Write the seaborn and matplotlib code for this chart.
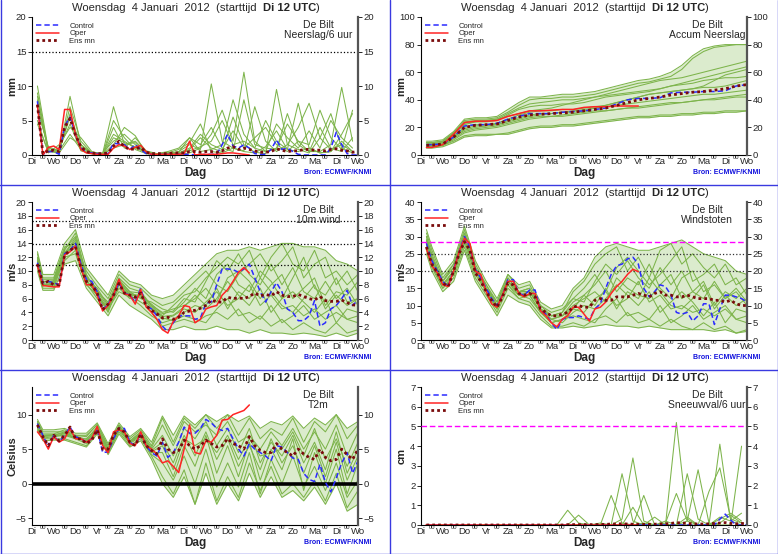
import matplotlib
matplotlib.use('Agg')
import matplotlib.pyplot as plt
from matplotlib.lines import Line2D
import pandas as pd
import seaborn as sns

sns.set_style('white')
plt.rcParams['font.family'] = ['Liberation Sans', 'DejaVu Sans']

# --- time axis (hours after Di 12 UTC) ---
hours6 = list(range(6, 361, 6))                 # control / ens mean
oper_hours = list(range(6, 241, 6))             # operational run (10 days)
mem_hours = [6] + list(range(12, 361, 12))      # ensemble members, continuous fields
pmem_hours = list(range(6, 361, 12))            # ensemble members, 6h sums
day_labels = ['Di', 'Wo', 'Do', 'Vr', 'Za', 'Zo', 'Ma', 'Di',
              'Wo', 'Do', 'Vr', 'Za', 'Zo', 'Ma', 'Di', 'Wo']

# --- Neerslag / 6 uur ---
rr_control = [7.8, 0.1, 0.5, 0.5, 0.1, 4.2, 5.5, 3.0, 1.0, 0.4,
              0.3, 0.2, 0.2, 0.2, 1.7, 1.6, 1.5, 0.8, 1.5, 0.8,
              0.2, 0.1, 0.1, 0.1, 0.1, 0.1, 0.1, 0.1, 0.1, 0.0,
              0.0, 0.1, 0.1, 0.1, 1.5, 3.0, 1.3, 1.0, 1.5, 1.0,
              0.2, 0.1, 0.1, 0.8, 2.2, 0.8, 1.0, 0.5, 0.1, 0.0,
              0.0, 0.0, 0.0, 0.0, 1.0, 3.3, 1.5, 0.2, 0.0, 0.0]
rr_oper = [7.2, 0.0, 1.1, 1.3, 0.8, 6.6, 6.6, 3.0, 0.8, 0.3,
           0.2, 0.1, 0.1, 0.1, 1.0, 1.5, 1.3, 0.8, 1.1, 1.4,
           0.5, 0.1, 0.1, 0.1, 0.1, 0.1, 0.1, 0.2, 2.0, 0.0,
           0.1, 0.1, 0.1, 0.1, 0.2, 0.3, 0.3, 0.2, 0.1, 0.0]
rr_mean = [7.3, 0.2, 0.6, 0.7, 0.5, 4.0, 5.3, 2.9, 1.2, 0.5,
           0.3, 0.2, 0.2, 0.3, 1.3, 2.0, 1.2, 0.8, 0.9, 1.1,
           0.4, 0.2, 0.2, 0.2, 0.2, 0.3, 0.3, 0.3, 0.5, 0.5,
           0.4, 0.5, 0.5, 0.4, 0.6, 1.0, 1.2, 0.8, 1.0, 0.8,
           0.6, 0.4, 0.4, 0.5, 0.9, 0.7, 0.5, 0.6, 0.6, 0.8,
           0.8, 0.7, 0.7, 0.6, 0.8, 0.9, 0.7, 0.6, 0.4, 0.5]
rr_members = [
    [10.0, 0.8, 0.3, 8.5, 1.5, 0.2, 0.1, 2.5, 1.8, 1.2, 0.3, 0.1, 0.2, 0.5, 1.5,
     0.8, 10.3, 2.0, 1.0, 0.5, 0.3, 1.2, 3.5, 0.8, 0.5, 1.0, 0.3, 0.5, 2.0, 0.5],
    [6.5, 1.2, 0.5, 7.0, 2.0, 0.3, 0.1, 5.0, 2.5, 0.8, 0.2, 0.1, 0.1, 0.2, 0.8,
     2.5, 1.0, 0.5, 5.5, 1.5, 0.4, 0.2, 9.5, 1.5, 0.8, 0.3, 2.5, 6.0, 1.0, 0.3],
    [8.0, 0.5, 0.8, 5.5, 1.0, 0.4, 0.2, 7.0, 1.5, 2.0, 0.5, 0.1, 0.1, 0.1, 0.3,
     1.0, 3.0, 6.5, 2.0, 12.0, 2.0, 0.5, 1.0, 4.5, 2.0, 0.5, 0.5, 1.5, 9.8, 2.0],
    [5.0, 0.3, 1.5, 4.0, 2.5, 0.5, 0.1, 1.5, 4.0, 2.8, 0.3, 0.2, 0.5, 1.0, 2.5,
     0.5, 0.8, 1.5, 8.0, 3.0, 1.0, 5.0, 2.0, 0.8, 7.5, 1.0, 0.3, 0.5, 3.0, 6.0],
    [9.0, 0.6, 0.4, 6.0, 1.2, 0.3, 0.2, 3.0, 2.0, 1.0, 0.4, 0.2, 0.3, 0.8, 1.8,
     4.5, 0.5, 0.3, 1.0, 0.6, 7.0, 2.0, 0.5, 1.5, 4.0, 7.5, 2.5, 0.8, 1.5, 0.5],
    [7.0, 1.0, 0.6, 3.0, 0.8, 0.2, 0.1, 4.0, 1.0, 2.5, 0.6, 0.2, 0.2, 0.3, 0.6,
     1.2, 2.0, 5.0, 1.5, 2.0, 1.0, 0.5, 4.5, 2.5, 1.0, 3.5, 1.0, 5.0, 2.5, 1.0],
    [4.5, 0.5, 0.3, 2.5, 1.5, 0.3, 0.3, 2.0, 3.0, 1.5, 0.3, 0.1, 0.1, 0.4, 2.5,
     1.5, 4.0, 1.0, 0.5, 8.0, 1.5, 1.0, 0.8, 6.0, 1.5, 0.5, 4.0, 1.0, 0.5, 2.5],
    [8.5, 0.4, 1.0, 4.5, 0.6, 0.2, 0.1, 1.0, 1.5, 1.8, 0.2, 0.1, 0.4, 0.3, 1.0,
     3.0, 1.5, 0.8, 3.5, 1.0, 2.5, 4.0, 1.5, 0.5, 2.0, 1.5, 6.5, 2.5, 0.8, 6.5],
]

# --- Accum neerslag ---
acc_control = [7.5, 7.5, 8.0, 13.0, 21.0, 22.0, 22.0, 23.0, 26.0, 28.0, 30.0,
               30.0, 30.0, 31.0, 31.5, 32.0, 33.0, 34.0, 37.0, 40.0, 41.0,
               41.0, 41.5, 45.0, 45.5, 45.5, 46.0, 46.0, 46.5, 50.0, 51.0]
acc_oper = [5.5, 5.5, 7.5, 15.0, 23.5, 24.5, 24.5, 25.0, 28.0, 30.0, 32.0,
            32.0, 32.5, 33.0, 33.0, 34.5, 35.0, 35.0, 35.5, 35.5, 35.5]
acc_mean = [7.0, 7.2, 8.0, 13.0, 20.0, 21.5, 22.0, 22.5, 25.0, 27.5, 29.0,
            29.5, 30.0, 30.5, 31.0, 32.0, 33.0, 34.0, 36.0, 38.0, 40.0,
            41.0, 42.0, 43.5, 44.5, 45.5, 46.0, 47.0, 48.0, 50.0, 51.0]
acc_members = [
    [9, 9, 10, 16, 25, 26, 26, 27, 31, 36, 40, 41, 41, 42, 42, 43, 44, 46, 48, 50, 52,
     53, 55, 57, 62, 70, 75, 78, 79, 80, 80],
    [6, 6, 7, 10, 14, 15, 15, 15, 16, 18, 20, 21, 21, 22, 22, 23, 24, 25, 26, 27, 28,
     28, 29, 29, 30, 30, 31, 31, 32, 32, 32],
    [8, 8, 9, 15, 22, 24, 25, 26, 30, 34, 37, 38, 39, 40, 40, 41, 42, 44, 46, 48, 50,
     52, 54, 55, 56, 58, 60, 62, 64, 66, 68],
    [7, 7, 8, 13, 18, 20, 21, 22, 25, 27, 29, 30, 30, 31, 31, 32, 34, 35, 36, 37, 38,
     39, 40, 41, 42, 43, 44, 44, 45, 46, 47],
    [6, 6, 7, 12, 17, 19, 20, 21, 23, 25, 27, 28, 28, 29, 30, 31, 32, 32, 33, 34, 34,
     35, 36, 37, 38, 39, 40, 40, 41, 42, 42],
    [8, 8, 9, 15, 24, 25, 25, 26, 28, 30, 32, 33, 34, 36, 38, 40, 42, 43, 44, 45, 46,
     47, 48, 50, 52, 54, 56, 58, 60, 62, 64],
    [7, 7, 8, 14, 20, 22, 22, 23, 26, 29, 31, 32, 32, 33, 33, 34, 35, 36, 38, 40, 42,
     44, 45, 46, 47, 48, 50, 54, 58, 60, 62],
    [6, 6, 7, 11, 16, 18, 19, 20, 22, 24, 26, 27, 28, 28, 29, 30, 31, 32, 33, 34, 35,
     36, 37, 38, 38, 39, 40, 41, 42, 43, 44],
    [9, 9, 10, 16, 23, 24, 24, 25, 29, 33, 35, 36, 36, 37, 37, 38, 40, 42, 43, 44, 45,
     46, 48, 50, 51, 52, 54, 55, 56, 56, 57],
    [7, 7, 8, 13, 19, 21, 22, 22, 24, 26, 28, 29, 30, 31, 32, 33, 34, 36, 38, 40, 42,
     44, 45, 46, 47, 48, 49, 49, 50, 52, 54],
]
acc_low = [5, 5, 6, 9, 13, 14, 14, 15, 15, 17, 19, 20, 20, 21, 21, 22, 23, 24, 25, 26, 27,
           27, 28, 28, 29, 29, 30, 30, 31, 31, 32]
acc_high = [10, 10, 11, 17, 26, 27, 27, 28, 33, 38, 42, 42, 43, 44, 44, 45, 46, 48, 50, 52, 54,
            55, 57, 60, 65, 72, 77, 79, 80, 80, 80]

# --- 10m wind ---
ff_control = [11.2, 8.3, 8.5, 8.3, 8.0, 12.5, 13.0, 14.0, 11.0, 8.8,
              8.5, 7.0, 4.3, 5.2, 6.5, 8.3, 6.8, 6.5, 5.5, 7.5,
              5.0, 4.5, 3.5, 2.0, 1.2, 2.5, 3.5, 3.5, 3.5, 3.0,
              3.2, 5.3, 5.5, 8.0, 10.3, 10.3, 10.2, 9.8, 10.3, 11.0,
              9.0, 7.0, 5.5, 7.0, 8.3, 7.0, 4.5, 4.0, 2.8, 2.8,
              3.5, 5.7, 2.0, 2.5, 4.5, 5.0, 6.0, 7.2, 5.0, 5.8]
ff_oper = [10.8, 7.9, 7.8, 7.7, 7.7, 12.3, 12.8, 13.6, 10.5, 8.0,
           8.0, 6.5, 4.2, 5.0, 6.5, 8.8, 6.7, 6.5, 5.2, 7.3,
           4.8, 4.0, 3.0, 1.5, 1.0, 2.7, 3.5, 5.0, 4.8, 2.5,
           3.0, 4.5, 4.8, 5.0, 6.5, 7.3, 8.5, 9.8, 10.5, 9.7]
ff_mean = [11.0, 8.2, 8.5, 8.0, 8.0, 12.3, 13.0, 13.5, 10.5, 8.5,
           8.0, 6.8, 4.4, 5.2, 6.5, 8.2, 6.8, 6.5, 6.2, 6.8,
           5.0, 4.3, 3.8, 3.2, 3.3, 3.0, 3.3, 4.0, 4.2, 4.3,
           4.6, 5.0, 5.8, 5.5, 5.5, 6.2, 6.0, 6.1, 6.0, 6.3,
           6.8, 6.4, 6.6, 6.4, 7.0, 6.5, 6.3, 6.3, 6.6, 6.3,
           6.0, 5.8, 6.3, 5.7, 5.6, 5.6, 5.8, 5.4, 5.1, 5.0]
ff_members = [
    [12.0, 8.8, 8.8, 13.0, 15.5, 9.5, 7.0, 5.5, 9.0, 7.5, 7.0, 5.0, 3.5, 5.0, 6.5, 7.0,
     9.0, 10.5, 12.0, 11.0, 13.0, 9.0, 12.0, 14.0, 11.0, 10.0, 13.0, 9.0, 10.0, 8.0, 9.5],
    [10.5, 7.5, 7.5, 12.0, 12.5, 8.0, 6.5, 4.5, 7.5, 6.0, 6.5, 4.0, 2.0, 2.5, 3.0, 2.5,
     3.5, 4.0, 3.0, 4.5, 2.5, 3.5, 2.0, 3.0, 1.5, 2.5, 1.5, 1.0, 2.5, 1.0, 1.5],
    [11.5, 8.5, 8.2, 12.5, 14.5, 9.0, 7.5, 5.0, 8.5, 7.0, 6.0, 5.5, 4.5, 4.0, 5.5, 7.5,
     6.0, 9.5, 11.0, 8.0, 7.0, 10.0, 8.5, 6.0, 9.0, 12.0, 7.5, 6.5, 9.0, 5.5, 6.0],
    [11.0, 8.0, 8.0, 12.8, 13.5, 8.5, 6.8, 4.0, 8.0, 6.5, 5.5, 4.5, 3.0, 3.5, 4.5, 4.0,
     5.5, 7.0, 5.0, 6.0, 8.0, 5.0, 6.5, 4.5, 5.0, 3.5, 4.5, 3.0, 4.0, 3.0, 3.5],
    [12.5, 9.0, 9.0, 13.5, 14.0, 10.0, 7.8, 6.0, 9.5, 8.0, 7.5, 6.0, 5.0, 5.5, 7.0, 8.5,
     10.0, 8.0, 7.0, 9.5, 11.0, 12.5, 10.0, 11.5, 13.5, 9.0, 11.0, 12.0, 8.0, 10.0, 7.0],
    [10.8, 7.8, 8.2, 11.5, 13.0, 8.2, 6.0, 4.5, 7.0, 6.2, 5.0, 3.5, 2.5, 3.0, 4.0, 5.0,
     4.5, 6.0, 8.5, 6.5, 5.0, 7.5, 4.0, 6.0, 7.0, 5.5, 4.0, 6.0, 2.5, 4.5, 4.0],
    [11.8, 8.5, 8.5, 13.2, 15.0, 9.2, 7.2, 5.2, 8.8, 7.0, 6.8, 5.0, 4.0, 4.5, 5.0, 6.0,
     7.5, 5.5, 9.0, 10.0, 8.5, 6.0, 8.0, 9.5, 6.0, 7.5, 9.0, 5.0, 7.0, 6.5, 8.5],
    [11.2, 8.2, 7.8, 12.2, 14.2, 8.8, 6.5, 4.2, 8.2, 6.8, 6.2, 4.8, 3.2, 2.8, 3.5, 3.0,
     2.5, 4.5, 6.0, 3.5, 4.0, 3.0, 5.0, 2.5, 3.5, 5.0, 3.0, 4.0, 5.0, 3.0, 2.5],
    [11.0, 8.0, 8.3, 12.6, 14.8, 9.3, 7.0, 4.8, 8.5, 6.6, 6.4, 5.2, 3.8, 4.2, 6.0, 5.5,
     8.5, 11.5, 10.0, 12.5, 9.5, 8.0, 11.0, 8.0, 10.5, 7.0, 6.0, 8.5, 6.0, 7.5, 5.0],
    [11.4, 8.4, 8.6, 12.4, 13.8, 8.6, 6.6, 4.6, 8.0, 6.4, 6.6, 4.6, 3.4, 3.6, 4.8, 6.5,
     5.0, 7.5, 4.5, 7.0, 6.0, 9.0, 7.0, 5.0, 4.0, 6.0, 8.0, 4.5, 6.5, 5.0, 6.0],
]
ff_low = [10.0, 7.2, 7.2, 11.0, 11.5, 7.5, 5.5, 3.5, 6.5, 5.0, 4.0, 3.0, 1.5, 1.5, 2.0, 1.5,
          1.5, 2.0, 1.5, 1.5, 1.0, 1.5, 1.0, 1.0, 0.8, 1.0, 0.8, 0.5, 1.0, 0.5, 1.0]
ff_high = [12.8, 9.5, 9.5, 14.0, 16.0, 10.5, 8.5, 6.5, 10.0, 8.5, 8.0, 6.5, 6.0, 6.5, 8.0, 9.5,
           11.0, 12.5, 13.0, 13.0, 13.5, 13.0, 13.5, 14.0, 14.0, 13.5, 13.5, 13.0, 11.5, 11.0, 10.0]

# --- Windstoten ---
fx_control = [28.0, 23.0, 20.0, 17.0, 15.5, 20.5, 25.5, 30.0, 27.0, 20.5,
              18.0, 15.0, 12.0, 10.0, 13.0, 17.5, 17.5, 13.5, 13.0, 14.5,
              14.5, 8.5, 7.5, 5.0, 3.0, 6.0, 6.5, 6.5, 7.0, 6.5,
              6.0, 9.0, 10.5, 15.0, 19.0, 21.5, 22.0, 23.5, 24.0, 22.0,
              15.0, 12.5, 14.0, 16.0, 15.5, 13.0, 8.0, 7.5, 8.0, 5.5,
              7.0, 10.5, 10.5, 4.5, 9.0, 13.0, 13.0, 12.5, 12.0, 11.0]
fx_oper = [26.5, 21.5, 19.5, 16.0, 15.5, 20.0, 25.5, 29.5, 28.0, 20.0,
           19.0, 14.0, 10.5, 9.5, 13.0, 17.0, 17.0, 13.5, 12.5, 13.5,
           13.5, 8.5, 7.0, 5.0, 3.8, 6.0, 7.0, 9.5, 9.5, 7.5,
           5.5, 9.0, 9.5, 11.0, 13.5, 15.5, 17.0, 19.0, 20.5, 19.8]
fx_mean = [27.0, 22.0, 19.5, 16.5, 15.5, 20.0, 25.0, 28.5, 26.0, 19.5,
           17.0, 14.0, 11.5, 9.5, 12.5, 16.5, 16.0, 13.5, 13.0, 13.5,
           12.5, 9.0, 8.0, 7.0, 7.0, 7.5, 8.0, 9.5, 10.0, 9.5,
           9.5, 11.5, 12.0, 11.5, 11.5, 12.5, 12.5, 12.5, 13.0, 13.5,
           13.0, 12.5, 13.5, 14.0, 13.0, 13.0, 12.5, 12.5, 13.0, 12.5,
           12.0, 12.0, 12.0, 11.5, 11.5, 11.0, 11.5, 10.5, 10.0, 10.0]
fx_members = [
    [31, 26, 18, 22, 32, 22, 16, 11, 19, 15, 16, 10, 7, 8, 14, 17, 22, 25, 27, 20, 24,
     18, 26, 28, 22, 25, 21, 18, 22, 16, 18],
    [26, 21, 15, 18, 27, 18, 13, 8, 15, 12, 11, 7, 4, 4, 5, 4, 6, 7, 5, 8, 5,
     6, 4, 6, 4, 3, 5, 3, 4, 2, 3],
    [29, 24, 17, 21, 31, 21, 15, 10, 18, 14, 14, 9, 6, 7, 11, 13, 16, 20, 14, 18, 16,
     22, 15, 12, 18, 20, 14, 16, 12, 14, 10],
    [28, 23, 16, 20, 29, 20, 14, 9, 17, 13, 13, 8, 5, 6, 9, 8, 12, 14, 10, 12, 17,
     11, 13, 9, 10, 8, 9, 7, 9, 6, 7],
    [30, 25, 17, 21, 30, 21, 16, 10, 17, 14, 15, 10, 8, 9, 12, 15, 19, 14, 21, 24, 20,
     16, 19, 23, 27, 17, 19, 22, 16, 18, 13],
    [27, 22, 16, 19, 28, 19, 14, 9, 16, 13, 12, 8, 6, 5, 8, 10, 9, 12, 16, 13, 10,
     14, 8, 11, 14, 11, 7, 11, 5, 9, 8],
    [29, 24, 16, 20, 30, 20, 15, 10, 17, 14, 14, 9, 7, 7, 10, 12, 14, 11, 18, 15, 13,
     12, 16, 19, 12, 14, 17, 10, 14, 12, 15],
    [28, 22, 15, 19, 29, 20, 14, 9, 16, 12, 13, 8, 5, 6, 7, 6, 5, 9, 12, 7, 8,
     6, 10, 5, 7, 10, 6, 8, 10, 6, 5],
    [30, 24, 17, 22, 31, 21, 15, 11, 18, 14, 15, 9, 7, 8, 12, 11, 17, 22, 19, 23, 18,
     15, 21, 16, 20, 14, 12, 17, 12, 15, 11],
    [29, 23, 16, 20, 29, 20, 15, 9, 17, 13, 14, 9, 6, 7, 9, 13, 10, 15, 9, 14, 12,
     18, 14, 10, 9, 12, 16, 9, 13, 10, 12],
]
fx_low = [25, 20, 14, 17, 26, 17, 12, 7, 13, 11, 10, 6, 3.5, 3.5, 4, 3.5, 4, 4.5, 4, 4, 3.5,
          4, 3.5, 3, 3, 3, 3, 2.5, 3, 2, 2.5]
fx_high = [32, 27, 19, 23, 33, 23, 17, 12, 19, 16, 17, 11, 9, 10, 15, 18, 24, 27, 28, 27, 26,
           26, 27, 28, 29, 27, 25, 24, 23, 20, 19]

# --- T2m ---
tt_control = [8.7, 7.0, 5.3, 7.0, 6.0, 7.0, 8.2, 6.8, 6.5, 6.0,
              6.5, 8.0, 4.5, 4.6, 6.5, 8.0, 8.0, 6.0, 5.5, 7.2,
              5.5, 4.5, 4.0, 6.0, 3.8, 4.5, 6.0, 8.2, 7.3, 7.3,
              8.0, 9.3, 8.8, 8.0, 7.7, 8.0, 6.5, 5.0, 4.0, 5.8,
              5.0, 4.5, 4.0, 3.3, 5.5, 5.3, 4.5, 3.7, 3.5, 1.5,
              0.6, 0.3, 2.8, 0.2, -1.2, 0.8, 3.0, 4.5, 1.5, 3.3]
tt_oper = [7.5, 6.5, 5.0, 6.8, 6.0, 6.5, 8.0, 6.5, 6.5, 6.0,
           6.5, 8.3, 5.5, 4.5, 7.5, 7.8, 7.5, 5.8, 5.5, 7.5,
           5.5, 5.0, 4.3, 3.0, 3.3, 2.5, 1.6, 5.0, 8.5, 4.5,
           4.3, 6.2, 6.0, 7.0, 9.2, 9.3, 10.0, 10.3, 10.6, 11.4]
tt_mean = [8.5, 6.8, 5.5, 7.0, 6.2, 7.0, 8.2, 6.5, 6.5, 5.8,
           6.3, 7.8, 5.0, 5.0, 7.0, 8.0, 7.5, 6.0, 5.5, 7.2,
           5.5, 4.8, 4.3, 6.5, 5.0, 4.5, 4.8, 6.3, 5.5, 5.0,
           5.5, 6.3, 5.8, 5.3, 5.5, 6.5, 5.8, 5.5, 5.0, 6.8,
           5.5, 4.8, 4.5, 4.5, 5.8, 5.0, 4.5, 4.0, 5.0, 4.3,
           3.8, 3.5, 5.0, 3.8, 3.3, 3.5, 5.0, 4.2, 3.5, 5.0]
tt_members = [
    [9, 7.5, 7.5, 7.5, 7, 7, 8.5, 5.5, 8.5, 6.5, 7.8, 5.5, 9.5, 6, 9.5, 8,
     10, 8, 10, 7, 9.5, 6.5, 8, 7, 9.5, 6, 9, 7.5, 10, 6.5, 8.5],
    [8, 6.5, 6.5, 6.5, 6, 5.5, 7.5, 4.5, 7.5, 5.5, 6.5, 4, 1, -1.5, 2, -3,
     3, -2.5, 1, -2, 3, -1, 2.5, -1.5, 0, -2, 0.5, -2.5, 1.5, -3.5, -1],
    [8.5, 7, 7, 7.5, 6.5, 6.5, 8, 5, 8, 6, 7.2, 5, 7, 4, 8, 6.5,
     9, 5.5, 8, 4.5, 8, 3, 6, 4, 7, 3, 6, 2, 7.5, 1.5, 5],
    [8.7, 6.8, 7, 7, 6.8, 6, 8, 4.8, 8.2, 6, 7, 4.5, 4.5, 1, 5.5, 2.5,
     7, 1.5, 5.5, 1, 6, 0.5, 5, 2, 6.5, -1, 4.5, 0, 5, -1.5, 3],
    [9, 7.2, 7.2, 7.8, 7, 6.8, 8.6, 5.2, 8.4, 6.2, 7.5, 5.2, 8.5, 5.5, 9, 7.5,
     8.5, 7, 9, 6, 7, 5, 7.5, 5.5, 8, 5, 7.5, 5, 8.5, 4, 7.5],
    [8.2, 6.6, 6.8, 7, 6.5, 5.8, 7.8, 4.4, 7.8, 5.8, 6.8, 4.2, 3, 0.5, 4, 0,
     5, -0.5, 3, -0.5, 4.5, -1.5, 3.5, 0, 4, -0.5, 2.5, -1, 3, -2, 0.5],
    [8.8, 7, 7.1, 7.3, 6.9, 6.4, 8.2, 5, 8.1, 6.1, 7.4, 4.8, 6, 3, 7, 4,
     7.5, 3.5, 6.5, 2.5, 5.5, 2, 6.5, 3, 5.5, 1.5, 5.5, 1, 6, 0.5, 4],
    [8.4, 6.9, 6.9, 7.2, 6.6, 6.2, 7.9, 4.9, 7.9, 5.9, 7.1, 4.6, 5.5, 2, 6.5, 5.5,
     6.5, 4.5, 7, 3.5, 6.5, 4, 4.5, 5, 7.5, 4, 8, 3.5, 6.5, 2.5, 6],
]
tt_low = [7.8, 6.2, 6.3, 6.3, 5.8, 5.3, 7.2, 4.2, 7.2, 5.3, 6.2, 3.5, 0, -2, 1, -3,
          1.5, -3, 0, -2.5, 1.5, -2, 1, -2, -1, -2.5, -0.5, -3, 0, -4, -3]
tt_high = [9.3, 7.8, 7.8, 8, 7.3, 7.3, 8.8, 5.8, 8.8, 6.8, 8, 6, 9.8, 7, 9.8, 8.5,
           10, 9, 10, 9, 9.8, 8, 9, 8.5, 9.8, 8, 9.5, 8.5, 10, 8, 9]

# --- Sneeuwval / 6 uur ---
sn_control = [0.0] * 54 + [0.3, 0.55, 0.25, 0.0, 0.0, 0.0]
sn_oper = [0.0] * 40
sn_mean = [0.0, 0.0, 0.0, 0.0, 0.0, 0.0, 0.0, 0.0, 0.0, 0.0,
           0.0, 0.0, 0.0, 0.0, 0.0, 0.0, 0.0, 0.0, 0.0, 0.0,
           0.0, 0.0, 0.0, 0.0, 0.0, 0.0, 0.02, 0.02, 0.02, 0.02,
           0.02, 0.02, 0.03, 0.03, 0.05, 0.05, 0.06, 0.05, 0.04, 0.03,
           0.03, 0.03, 0.04, 0.05, 0.06, 0.08, 0.12, 0.1, 0.08, 0.06,
           0.05, 0.05, 0.06, 0.08, 0.1, 0.12, 0.08, 0.06, 0.08, 0.06]
sn_members = [
    [0, 0, 0, 0, 0, 0, 0, 0, 0, 0, 0, 0, 0, 0.75, 0.1,
     0, 0, 0, 2.6, 0.2, 0, 0, 0, 0, 2.6, 0.3, 0, 4.1, 0.2, 0],
    [0, 0, 0, 0, 0, 0, 0, 0, 0, 0, 0, 0, 0, 0, 0,
     0, 0, 0, 0.3, 3.4, 0.2, 0, 0, 5.2, 0.3, 0, 0, 0.1, 0.5, 0.1],
    [0, 0, 0, 0, 0, 0, 0, 0, 0, 0, 0, 0, 0, 0, 0,
     0, 0, 1.5, 0.1, 0, 1.5, 0, 0, 0, 0.2, 2.8, 0.1, 0, 0, 4.0],
    [0, 0, 0, 0, 0, 0, 0, 0, 0, 0, 0, 0, 0, 0, 0.5,
     0, 0, 0, 0, 0, 0, 0.4, 0, 0, 0, 0, 1.7, 2.9, 0.3, 0.1],
    [0, 0, 0, 0, 0, 0, 0, 0, 0, 0, 0, 0, 0, 0, 0,
     0, 0.1, 0, 0, 0.9, 0, 0, 0.1, 1.6, 0.2, 0, 0, 0.4, 0.2, 0.6],
    [0, 0, 0, 0, 0, 0, 0, 0, 0, 0, 0, 0, 0, 0, 0,
     0, 0, 0, 0, 0, 0.1, 0, 0.2, 0, 0.4, 0, 0, 0.3, 0.6, 0.2],
]

GREEN = '#7db44b'
BAND = '#dbebcd'
FRAME = '#3a3ae0'


def draw_panel(ax, label, ylim, yticks, ylabel, mem_h, members, band,
               ctrl_h, control, oper_h, oper, mean, refs):
    for m in members:
        assert len(m) == len(mem_h)
    assert len(control) == len(ctrl_h) and len(mean) == len(ctrl_h)
    assert len(oper) == len(oper_h)
    lines = list(members)
    if band is not None:
        ax.fill_between(mem_h, band[0], band[1], color=BAND, lw=0, zorder=1)
        lines += [band[0], band[1]]
    rows = [(h, v, i) for i, m in enumerate(lines) for h, v in zip(mem_h, m)]
    df = pd.DataFrame(rows, columns=['hour', 'value', 'member'])
    sns.lineplot(data=df, x='hour', y='value', units='member', estimator=None,
                 color=GREEN, lw=0.75, ax=ax, legend=False, zorder=2)
    for y, col, ls, lw in refs:
        ax.axhline(y, color=col, ls=ls, lw=lw, zorder=3)
    ax.plot(ctrl_h, control, color='#2b2bff', ls=(0, (3.5, 2)), lw=1.1,
            label='Control', zorder=5)
    ax.plot(oper_h, oper, color='#ff2424', lw=1.1, label='Oper', zorder=6)
    ax.plot(ctrl_h, mean, color='#7a0c0c', ls=(0, (1, 1.1)), lw=2.0,
            label='Ens mn', zorder=7)

    ax.set_xlim(0, 360)
    ax.set_ylim(*ylim)
    ax.set_xticks(range(0, 361, 24), labels=day_labels)
    ax.set_xticks(range(12, 360, 24), labels=['00'] * 15, minor=True)
    ax.tick_params(axis='x', which='major', labelsize=6.8, pad=1.5, length=2,
                   direction='in', width=0.6)
    ax.tick_params(axis='x', which='minor', labelsize=4.2, pad=0.2, length=2,
                   direction='in', width=0.6)
    ax.set_yticks(yticks)
    ax.tick_params(axis='y', labelsize=6.8, pad=1, length=3, width=0.7)
    ax.set_xlabel('Dag', fontsize=8.5, fontweight='bold')
    ax.xaxis.set_label_coords(0.5, -0.09)
    ax.set_ylabel(ylabel, fontsize=8, fontweight='bold')
    ax.yaxis.set_label_coords(-0.045, 0.5)
    for s in ['top', 'right']:
        ax.spines[s].set_visible(False)
    for s in ['left', 'bottom']:
        ax.spines[s].set_color('black')
        ax.spines[s].set_linewidth(0.8)

    rx = ax.twinx()
    rx.set_ylim(*ylim)
    rx.set_yticks(yticks)
    rx.tick_params(axis='y', labelsize=6.8, pad=1, length=3, width=0.7)
    for s in ['top', 'left', 'bottom']:
        rx.spines[s].set_visible(False)
    rx.spines['right'].set_color('#555555')
    rx.spines['right'].set_linewidth(1.6)
    rx.grid(False)
    ax.grid(False)

    ax.legend(loc='upper left', bbox_to_anchor=(0.0, 0.99), fontsize=5.5,
              frameon=False, handlelength=3.0, handletextpad=1.4,
              labelspacing=0.05, borderpad=0.3, borderaxespad=0.2)

    t1 = ax.text(0.123, 1.065, 'Woensdag  4 Januari  2012  (starttijd  ',
                 transform=ax.transAxes, ha='left', va='center', fontsize=8.1)
    t2 = ax.annotate('Di 12 UTC', xy=(1, 0.5), xycoords=t1, ha='left',
                     va='center', fontsize=8.1, fontweight='bold')
    ax.annotate(')', xy=(1, 0.5), xycoords=t2, ha='left', va='center',
                fontsize=8.1)
    ax.text(0.877, 0.94, 'De Bilt', transform=ax.transAxes, ha='center',
            va='center', fontsize=7.5)
    ax.text(0.877, 0.87, label, transform=ax.transAxes, ha='center',
            va='center', fontsize=7.5)
    ax.text(1.04, -0.13, 'Bron: ECMWF/KNMI', transform=ax.transAxes,
            ha='right', va='center', fontsize=5, fontweight='bold',
            color='#1010dd')


W, H = 778, 554
fig = plt.figure(figsize=(W / 100, H / 100), dpi=100)
fig.patch.set_facecolor('white')

panels = [
    dict(label='Neerslag/6 uur', ylim=(0, 20), yticks=[0, 5, 10, 15, 20], ylabel='mm',
         mem_h=pmem_hours, members=rr_members, band=None,
         ctrl_h=hours6, control=rr_control, oper_h=oper_hours, oper=rr_oper,
         mean=rr_mean, refs=[(15, 'black', ':', 0.9)]),
    dict(label='Accum Neerslag', ylim=(0, 100), yticks=[0, 20, 40, 60, 80, 100],
         ylabel='mm', mem_h=mem_hours, members=acc_members, band=(acc_low, acc_high),
         ctrl_h=mem_hours, control=acc_control, oper_h=mem_hours[:21], oper=acc_oper,
         mean=acc_mean, refs=[]),
    dict(label='10m wind', ylim=(0, 20), yticks=list(range(0, 21, 2)), ylabel='m/s',
         mem_h=mem_hours, members=ff_members, band=(ff_low, ff_high),
         ctrl_h=hours6, control=ff_control, oper_h=oper_hours, oper=ff_oper,
         mean=ff_mean, refs=[(10.8, 'black', ':', 0.9), (13.9, 'black', ':', 0.9),
                             (17.2, 'black', ':', 0.9)]),
    dict(label='Windstoten', ylim=(0, 40), yticks=list(range(0, 41, 5)), ylabel='m/s',
         mem_h=mem_hours, members=fx_members, band=(fx_low, fx_high),
         ctrl_h=hours6, control=fx_control, oper_h=oper_hours, oper=fx_oper,
         mean=fx_mean, refs=[(28.5, '#ff00ff', (0, (4, 2)), 1.0),
                             (25, '#333333', ':', 0.9), (20, '#333333', ':', 0.9)]),
    dict(label='T2m', ylim=(-6, 14), yticks=[-5, 0, 5, 10], ylabel='Celsius',
         mem_h=mem_hours, members=tt_members, band=(tt_low, tt_high),
         ctrl_h=hours6, control=tt_control, oper_h=oper_hours, oper=tt_oper,
         mean=tt_mean, refs=[(0, 'black', '-', 2.6)]),
    dict(label='Sneeuwval/6 uur', ylim=(0, 7), yticks=list(range(0, 8)), ylabel='cm',
         mem_h=pmem_hours, members=sn_members, band=None,
         ctrl_h=hours6, control=sn_control, oper_h=oper_hours, oper=sn_oper,
         mean=sn_mean, refs=[(5, '#ff00ff', (0, (4, 2)), 1.0)]),
]

row_top = [0, 185, 370]
for i, p in enumerate(panels):
    r, c = divmod(i, 2)
    x0 = 389 * c + 32
    top = row_top[r] + 17
    ax = fig.add_axes([x0 / W, 1 - (top + 138) / H, 326 / W, 138 / H])
    ax.set_facecolor('white')
    draw_panel(ax, **p)

# blue frame between the panels
frame = [((389.5, 389.5), (0, H)), ((0, W), (184.5, 184.5)), ((0, W), (369.5, 369.5)),
         ((0.5, 0.5), (0, H)), ((W - 0.5, W - 0.5), (0, H)), ((0, W), (H - 0.5, H - 0.5))]
for xs, ys in frame:
    fig.add_artist(Line2D([x / W for x in xs], [1 - y / H for y in ys],
                          color=FRAME, lw=1.0, transform=fig.transFigure))

fig.savefig('out.png', dpi=100)
